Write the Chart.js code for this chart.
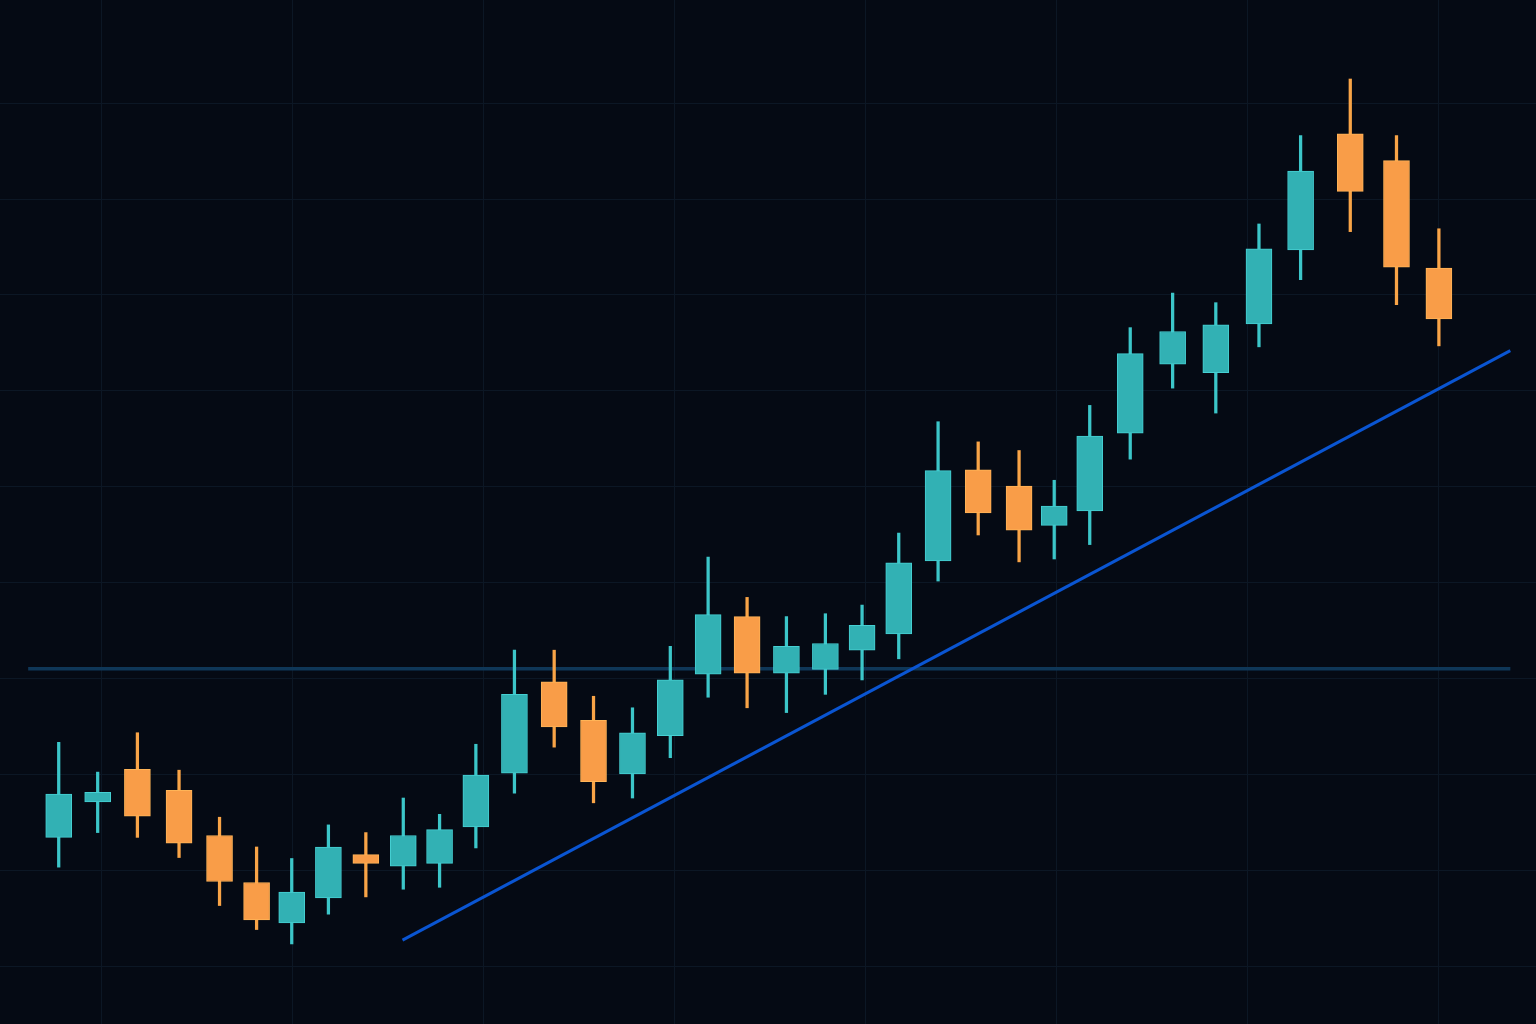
<!DOCTYPE html>
<html>
<head>
<meta charset="utf-8">
<script src="https://cdn.jsdelivr.net/npm/chart.js@4.4.1/dist/chart.umd.min.js"></script>
<style>
html,body{margin:0;padding:0;background:#050a14;overflow:hidden;}
#wrap{width:1536px;height:1024px;}
canvas{display:block;}
</style>
</head>
<body>
<div id="wrap"><canvas id="c" width="1536" height="1024"></canvas></div>
<script>
// Session positions (time axis, in sessions)
const sessions = [1.00, 2.02, 3.06, 4.15, 5.21, 6.18, 7.10, 8.06, 9.04, 10.02, 10.97, 11.92, 12.93, 13.97, 15.00, 16.02, 17.01, 18.00, 19.02, 20.05, 21.07, 22.03, 22.99, 24.02, 25.07, 26.14, 27.06, 27.99, 29.05, 30.16, 31.29, 32.42, 33.51, 34.81, 36.02, 37.13];
const opens  = [113.5, 117.2, 120.6, 118.4, 113.7, 108.8, 104.6, 107.2, 111.7, 110.5, 110.8, 114.6, 120.2, 129.7, 125.7, 120.1, 124.1, 130.5, 136.5, 130.6, 131.0, 133.0, 134.7, 142.3, 151.8, 150.1, 146.0, 147.5, 155.6, 162.8, 161.9, 167.0, 174.7, 186.8, 184.0, 172.8];
const highs  = [123.4, 120.3, 124.4, 120.5, 115.6, 112.5, 111.3, 114.8, 114.0, 117.6, 115.9, 123.2, 133.0, 133.0, 128.2, 127.0, 133.4, 142.7, 138.5, 136.5, 136.8, 137.7, 145.2, 156.8, 154.7, 153.8, 150.7, 158.5, 166.6, 170.2, 169.2, 177.4, 186.6, 192.5, 186.6, 176.9];
const lows   = [110.4, 114.0, 113.5, 111.4, 106.4, 103.9, 102.4, 105.5, 107.3, 108.1, 108.3, 112.4, 118.1, 122.9, 117.1, 117.6, 121.8, 128.1, 127.0, 126.5, 128.4, 129.9, 132.1, 140.2, 145.0, 142.2, 142.5, 144.0, 152.9, 160.3, 157.7, 164.6, 171.6, 176.6, 169.0, 164.7];
const closes = [118.0, 118.2, 115.7, 112.9, 108.9, 104.9, 107.8, 112.5, 110.8, 113.7, 114.3, 120.0, 128.4, 125.0, 119.3, 124.4, 129.9, 136.7, 130.6, 133.4, 133.7, 135.6, 142.1, 151.7, 147.3, 145.5, 148.0, 155.3, 163.9, 166.2, 166.9, 174.8, 182.9, 180.8, 172.9, 167.5];

// Horizontal level line
const levelTimes  = [0.2, 39.0];
const levelValues = [131.07, 131.07];
// Rising trend line
const trendTimes  = [10.0, 39.0];
const trendValues = [102.8, 164.2];

const UP_FILL = '#32b1b4', UP_EDGE = '#46d0d3', UP_WICK = '#3cc6c9';
const DN_FILL = '#f99d48', DN_EDGE = '#ffb457', DN_WICK = '#f9a447';
const GRID = '#0c1725';

const isUp = opens.map((o, i) => closes[i] >= o);
const bodyData = sessions.map((t, i) => ({x: t, y: [opens[i], closes[i]]}));
const wickData = sessions.map((t, i) => ({x: t, y: [lows[i], highs[i]]}));

new Chart(document.getElementById('c'), {
  type: 'bar',
  data: {
    datasets: [
      {
        type: 'bar', label: 'body', data: bodyData, order: 1,
        grouped: false, barThickness: 26,
        backgroundColor: isUp.map(u => u ? UP_FILL : DN_FILL),
        borderColor: isUp.map(u => u ? UP_EDGE : DN_EDGE),
        borderWidth: 1, borderSkipped: false
      },
      {
        type: 'bar', label: 'wick', data: wickData, order: 2,
        grouped: false, barThickness: 2.6,
        backgroundColor: isUp.map(u => u ? UP_WICK : DN_WICK),
        borderWidth: 0
      },
      {
        type: 'line', label: 'level', order: 3,
        data: levelTimes.map((t, i) => ({x: t, y: levelValues[i]})),
        borderColor: '#0f3758', borderWidth: 3.5, pointRadius: 0, fill: false
      },
      {
        type: 'line', label: 'trend', order: 0,
        data: trendTimes.map((t, i) => ({x: t, y: trendValues[i]})),
        borderColor: '#0a55d2', borderWidth: 3, pointRadius: 0, fill: false
      }
    ]
  },
  options: {
    responsive: false,
    animation: false,
    devicePixelRatio: 1,
    layout: {padding: 0},
    plugins: {legend: {display: false}, tooltip: {enabled: false}},
    scales: {
      x: {
        type: 'linear', display: false, offset: false,
        grid: {offset: false},
        min: -0.537, max: 39.672
      },
      xg: {
        type: 'linear', position: 'bottom', offset: false,
        min: -0.5288, max: 7.513,
        ticks: {display: false, stepSize: 1, includeBounds: false},
        grid: {color: GRID, lineWidth: 1, drawTicks: false, offset: false},
        border: {display: false}
      },
      y: {
        type: 'linear', offset: false,
        min: 94.06, max: 200.73,
        ticks: {display: false, stepSize: 10, includeBounds: false},
        grid: {
          color: ctx => (ctx.tick && ctx.tick.value > 195) ? 'rgba(0,0,0,0)' : GRID,
          lineWidth: 1, drawTicks: false
        },
        border: {display: false}
      }
    }
  }
});
</script>
</body>
</html>
